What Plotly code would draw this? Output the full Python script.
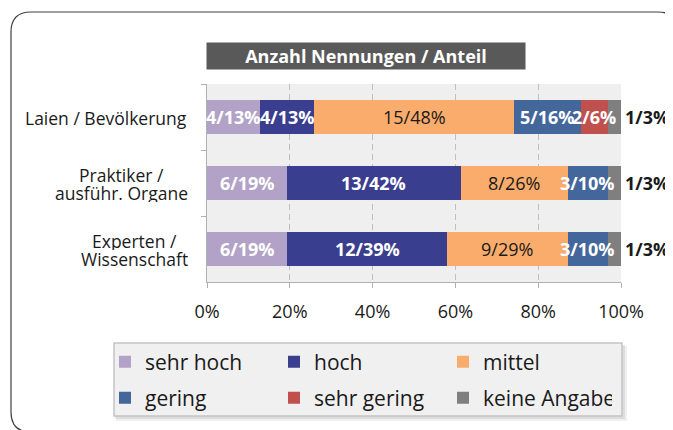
import plotly.graph_objects as go

# ---------------- data ----------------
categories = ["Laien / Bevölkerung", "Praktiker /<br>ausführ. Organe", "Experten /<br>Wissenschaft"]
series_names = ["sehr hoch", "hoch", "mittel", "gering", "sehr gering", "keine Angabe"]
sehr_hoch = [4, 6, 6]
hoch = [4, 13, 12]
mittel = [15, 8, 9]
gering = [5, 3, 3]
sehr_gering = [2, 0, 0]
keine_angabe = [1, 1, 1]
x_ticks = [0, 0.2, 0.4, 0.6, 0.8, 1.0]
title_text = "Anzahl Nennungen / Anteil"

series_values = [sehr_hoch, hoch, mittel, gering, sehr_gering, keine_angabe]
colors = ["#b3a2c7", "#3a3e8f", "#f9ac6b", "#43669b", "#c0504d", "#7f7f7f"]
label_colors = ["white", "white", "#1a1a1a", "white", "white", "#1a1a1a"]
label_bold = [True, True, False, True, True, True]
legend_ids = ["legend", "legend", "legend", "legend2", "legend2", "legend2"]

FONT = "Open Sans"
# page body has an 8px margin -> figure is drawn offset by (8, 8)
OFF = 8
WIDTH, HEIGHT = 673 - OFF, 430 - OFF
ML, MT = 207 - OFF, 84 - OFF
MR = WIDTH - (621 - OFF)
MB = HEIGHT - (282 - OFF)
PW = WIDTH - ML - MR
PH = HEIGHT - MT - MB


def px(x):
    """reference-picture x pixel -> paper coordinate"""
    return (x - OFF - ML) / PW


def py(y):
    """reference-picture y pixel -> paper coordinate"""
    return (HEIGHT - MB - (y - OFF)) / PH


totals = [sum(s[i] for s in series_values) for i in range(len(categories))]

fig = go.Figure()
for name, vals, col, lg in zip(series_names, series_values, colors, legend_ids):
    fig.add_trace(go.Bar(
        y=categories,
        x=[v / t for v, t in zip(vals, totals)],
        orientation="h",
        name=name,
        marker=dict(color=col, line=dict(width=0)),
        legend=lg,
        hoverinfo="skip",
    ))

# segment labels (count / share)
annotations = []
for i, cat in enumerate(categories):
    cum = 0
    for j, vals in enumerate(series_values):
        n = vals[i]
        share = n / totals[i]
        if n > 0:
            txt = f"{n}/{round(100 * share)}%"
            if label_bold[j]:
                txt = f"<b>{txt}</b>"
            last = j == len(series_values) - 1
            annotations.append(dict(
                x=cum + share if last else cum + share / 2, y=cat,
                xref="x", yref="y", text=txt, showarrow=False,
                xanchor="left" if last else "center", xshift=2 if last else 0,
                font=dict(family=FONT, size=18, color=label_colors[j]),
            ))
        cum += share

# category labels: lines centered within a right-aligned block, tight line spacing
CAT_SIZE = 17.5
LINE_STEP = 18.5
RIGHT_EDGE = 189
for cat in categories:
    lines = cat.split("<br>")
    k = len(lines)
    if k == 1:
        annotations.append(dict(
            x=px(RIGHT_EDGE), y=cat, xref="paper", yref="y", text=cat, showarrow=False,
            xanchor="right", yanchor="middle", yshift=-1,
            font=dict(family=FONT, size=CAT_SIZE, color="#1a1a1a"),
        ))
        continue
    block_w = max(len(s) for s in lines) * 0.5 * CAT_SIZE
    cx = RIGHT_EDGE - 2 - block_w / 2
    for li, line in enumerate(lines):
        shift = -1 + ((k - 1) / 2 - li) * LINE_STEP
        annotations.append(dict(
            x=px(cx), y=cat, xref="paper", yref="y", text=line, showarrow=False,
            xanchor="center", yanchor="middle", yshift=shift, height=18,
            font=dict(family=FONT, size=CAT_SIZE, color="#1a1a1a"),
        ))

# title box
annotations.append(dict(
    x=px(366), y=py(56), xref="paper", yref="paper",
    text=f"<b>{title_text}</b>", showarrow=False,
    xanchor="center", yanchor="middle",
    width=318, height=26, borderpad=0, bgcolor="#595959",
    font=dict(family=FONT, size=18, color="white"),
))


def rect(x0, y0, x1, y1, **kw):
    return dict(type="rect", xref="paper", yref="paper",
                x0=px(x0), x1=px(x1), y0=py(y0), y1=py(y1), layer="above", **kw)


# outer rounded frame
r = 20
l, t, rr, b = 11, 12, 678, 432
pts = [
    ("M", l, t + r), ("Q", l, t, l + r, t), ("L", rr - r, t), ("Q", rr, t, rr, t + r),
    ("L", rr, b - r), ("Q", rr, b, rr - r, b), ("L", l + r, b), ("Q", l, b, l, b - r),
]
path = ""
for p in pts:
    coords = p[1:]
    s = [f"{px(coords[k]):.5f},{py(coords[k + 1]):.5f}" for k in range(0, len(coords), 2)]
    path += p[0] + " ".join(s) + " "
path += "Z"

shapes = [
    dict(type="path", xref="paper", yref="paper", path=path,
         line=dict(color="#404040", width=1.2), layer="above"),
    # legend shadow + box
    rect(116, 346, 627, 421, fillcolor="rgba(0,0,0,0.06)", line=dict(width=0)),
    rect(115, 345, 625, 419, fillcolor="rgba(0,0,0,0.08)", line=dict(width=0)),
    rect(114, 343, 622, 416, fillcolor="#f0f0f0", line=dict(color="#c4c4c4", width=1.5)),
]

legend_common = dict(
    orientation="h", xanchor="left", yanchor="middle",
    entrywidth=124, entrywidthmode="pixels",
    bgcolor="rgba(0,0,0,0)", borderwidth=0,
    font=dict(family=FONT, size=21, color="#1a1a1a"),
    traceorder="normal",
)

fig.update_layout(
    width=WIDTH, height=HEIGHT,
    margin=dict(l=ML, r=MR, t=MT, b=MB, pad=0),
    paper_bgcolor="white",
    plot_bgcolor="#efefef",
    barmode="stack",
    bargap=0.48,
    font=dict(family=FONT, color="#1a1a1a"),
    showlegend=True,
    legend=dict(x=px(105), y=py(362), **legend_common),
    legend2=dict(x=px(105), y=py(398), **legend_common),
    annotations=annotations,
    shapes=shapes,
    xaxis=dict(
        range=[0, 1], tickvals=x_ticks, tickformat=".0%",
        showgrid=True, gridcolor="#bfbfbf", griddash="6px,4px", gridwidth=1,
        showline=True, linecolor="#b0b0b0", linewidth=1,
        ticks="outside", ticklen=5, tickcolor="#b0b0b0",
        zeroline=False, fixedrange=True,
        tickfont=dict(family=FONT, size=18, color="#1a1a1a"),
        ticklabelstandoff=8,
    ),
    yaxis=dict(
        type="category", categoryorder="array", categoryarray=categories,
        autorange="reversed", showticklabels=False,
        ticks="outside", tickson="boundaries", ticklen=5, tickcolor="#b0b0b0",
        showline=True, linecolor="#b0b0b0", linewidth=1,
        showgrid=False, zeroline=False, fixedrange=True,
    ),
)

fig.write_html("out.html")
